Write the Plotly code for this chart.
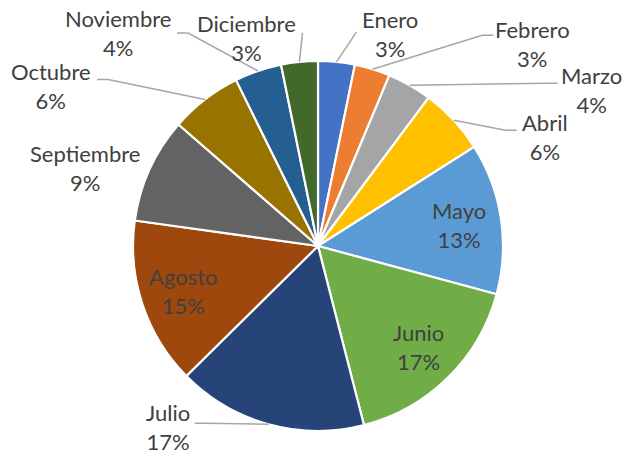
import math
import plotly.graph_objects as go

# ---- data ----
months = ["Enero", "Febrero", "Marzo", "Abril", "Mayo", "Junio",
          "Julio", "Agosto", "Septiembre", "Octubre", "Noviembre", "Diciembre"]
shares = [3.2, 3.1, 3.9, 5.8, 13.2, 16.8, 16.6, 14.6, 9.2, 6.3, 4.1, 3.2]

# ---- style ----
colors = ["#4472C4", "#ED7D31", "#A5A5A5", "#FFC000", "#5B9BD5", "#70AD47",
          "#264478", "#9E480E", "#636363", "#997300", "#255E91", "#43682B"]
W, H = 630, 456
CX, CY, R = 318, 246, 185
FONT = "Lato"
FSIZE = 22
TXT = "#404040"
LINE_COL = "#A6A6A6"
inside = {"Mayo", "Junio", "Agosto"}
INSIDE_R = 0.77
# label centre offsets (px) from slice-edge anchor, and leader line end offsets
label_off = {"Enero": (53, -28), "Febrero": (160, -25), "Marzo": (182, 5),
             "Abril": (91, 17), "Julio": (-101, 3), "Septiembre": (-65, -1),
             "Octubre": (-154, -13), "Noviembre": (-140, -38), "Diciembre": (-53, -24)}
line_end = {"Enero": (20, -30), "Febrero": (121, -34), "Marzo": (148, -2),
            "Abril": (63, 10), "Julio": (-74, -1), "Octubre": (-108, -20),
            "Noviembre": (-81, -38), "Diciembre": (3, -29)}
ELBOW = 11


def px(x, y):
    return x / W, 1 - y / H


fig = go.Figure(go.Pie(
    labels=months, values=shares, sort=False, direction="clockwise", rotation=0,
    marker=dict(colors=colors, line=dict(color="white", width=2.2)),
    textinfo="none", hoverinfo="label+percent", showlegend=False,
    domain=dict(x=[(CX - R) / W, (CX + R) / W], y=[(H - CY - R) / H, (H - CY + R) / H]),
))

total = sum(shares)
cum = 0.0
annotations, shapes = [], []
for m, v in zip(months, shares):
    mid = (cum + v / 2) / total * 2 * math.pi
    cum += v
    pct = f"{round(v / total * 100)}%"
    sx, sy = math.sin(mid), -math.cos(mid)
    if m in inside:
        lx, ly = CX + INSIDE_R * R * sx, CY + INSIDE_R * R * sy
    else:
        ax, ay = CX + R * sx, CY + R * sy
        dx, dy = label_off[m]
        lx, ly = ax + dx, ay + dy
        if m in line_end:
            ex, ey = line_end[m]
            sgn = 1 if ex > 0 else -1
            bx = ex - sgn * ELBOW if abs(ex) > 2 * ELBOW else ex
            pts = [(ax, ay), (ax + bx, ay + ey), (ax + ex, ay + ey)]
            path = "M " + " L ".join(f"{px(x, y)[0]:.5f},{px(x, y)[1]:.5f}" for x, y in pts)
            shapes.append(dict(type="path", path=path, xref="paper", yref="paper",
                               line=dict(color=LINE_COL, width=1.5)))
    x, y = px(lx, ly)
    annotations.append(dict(x=x, y=y, xref="paper", yref="paper", showarrow=False,
                            text=f"{m}<br>{pct}", xanchor="center", yanchor="middle",
                            align="center", font=dict(family=FONT, size=FSIZE, color=TXT)))

fig.update_layout(width=W, height=H, margin=dict(l=0, r=0, t=0, b=0),
                  paper_bgcolor="white", plot_bgcolor="white",
                  annotations=annotations, shapes=shapes)
fig.write_html("out.html", config={"displayModeBar": False},
               post_script="document.body.style.margin='0px';document.body.style.overflow='hidden';")
